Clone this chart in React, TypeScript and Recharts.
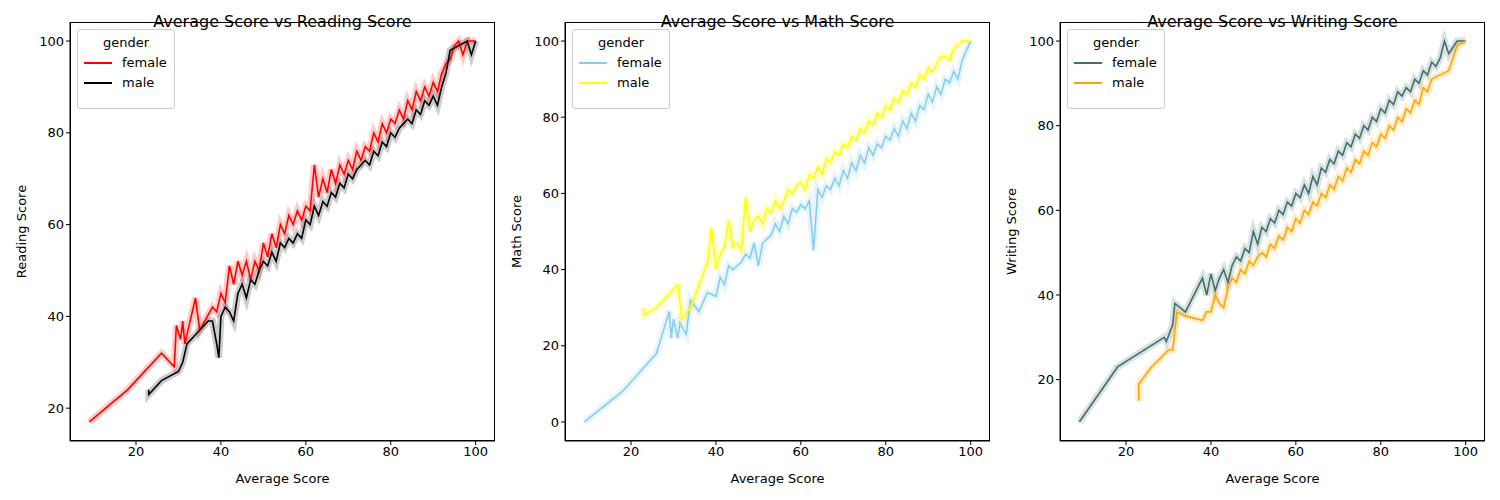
import React from "react";
import { LineChart, Line, XAxis, YAxis } from "recharts";

type Pt = { x: number; y: number };
const toPts = (rows: number[][]): Pt[] => rows.map(([x, y]) => ({ x, y }));

const readingFemale = [
  [9, 17], [18, 24], [26, 32], [29, 29], [29.5, 38], [30.5, 35], [31, 39], [31.5, 34], [34, 44], [35, 37],
  [38, 42], [39, 41], [40, 45], [41, 43], [42, 51], [43, 47], [44, 52], [45, 49], [46, 52], [47, 48],
  [48, 52], [49, 50], [50, 56], [51, 53], [52, 58], [53, 55], [54, 60], [55, 58], [56, 62], [57, 60],
  [58, 63], [59, 61], [60, 64], [61, 63], [62, 73], [63, 66], [64, 70], [65, 67], [66, 72], [67, 69],
  [68, 73], [69, 71], [70, 74], [71, 72], [72, 76], [73, 74], [74, 77], [75, 76], [76, 80], [77, 78],
  [78, 82], [79, 80], [80, 83], [81, 82], [82, 85], [83, 83], [84, 87], [85, 85], [86, 89], [87, 87],
  [88, 90], [89, 88], [90, 91], [91, 89], [92, 93], [93, 95], [94, 96], [95, 99], [96, 100], [97, 97],
  [98, 100], [100, 100],
];
const readingMale = [
  [23, 24], [23, 23], [26, 26], [30, 28], [31, 30], [32, 34], [34, 36], [37, 39], [38, 39], [39, 34],
  [39.5, 31], [40, 40], [41, 42], [42, 41], [43, 39], [44, 45], [45, 47], [46, 44], [47, 48], [48, 47],
  [49, 50], [50, 52], [51, 51], [52, 54], [53, 52], [54, 56], [55, 55], [56, 57], [57, 56], [58, 58],
  [59, 57], [60, 61], [61, 60], [62, 64], [63, 62], [64, 65], [65, 64], [66, 67], [67, 66], [68, 69],
  [69, 68], [70, 71], [71, 70], [72, 72], [73, 73], [74, 74], [75, 73], [76, 76], [77, 75], [78, 78],
  [79, 77], [80, 80], [81, 79], [82, 81], [83, 82], [84, 83], [85, 82], [86, 85], [87, 84], [88, 87],
  [89, 86], [90, 88], [91, 86], [92, 90], [93, 93], [94, 98], [96, 99], [98, 100], [99, 97], [100, 100],
];
const mathFemale = [
  [9, 0], [18, 8], [26, 18], [29, 29], [29.5, 22], [30, 27], [31, 22], [31.5, 26], [33, 23], [34, 32],
  [36, 29], [38, 34], [40, 33], [41, 38], [42, 36], [43, 41], [44, 40], [46, 42], [47, 44], [48, 43],
  [49, 47], [50, 41], [51, 47], [52, 48], [53, 49], [54, 52], [55, 50], [56, 54], [57, 52], [58, 56],
  [59, 55], [60, 57], [61, 56], [62, 58], [63, 45], [64, 61], [65, 59], [66, 62], [67, 61], [68, 64],
  [69, 62], [70, 66], [71, 64], [72, 68], [73, 66], [74, 70], [75, 68], [76, 72], [77, 70], [78, 73],
  [79, 72], [80, 75], [81, 74], [82, 77], [83, 75], [84, 79], [85, 77], [86, 81], [87, 79], [88, 83],
  [89, 82], [90, 86], [91, 84], [92, 88], [93, 86], [94, 90], [95, 89], [96, 92], [97, 90], [98, 95],
  [100, 100],
];
const mathMale = [
  [23, 30], [23, 28], [26, 30], [31, 36], [32, 27], [34, 30], [38, 42], [39, 51], [40, 40], [41, 44],
  [42, 46], [43, 53], [44, 46], [45, 47], [46, 45], [47, 59], [48, 50], [49, 53], [50, 54], [51, 52],
  [52, 56], [53, 55], [54, 58], [55, 56], [56, 58], [57, 61], [58, 60], [59, 62], [60, 63], [61, 61],
  [62, 65], [63, 64], [64, 67], [65, 65], [66, 69], [67, 68], [68, 71], [69, 70], [70, 73], [71, 72],
  [72, 75], [73, 74], [74, 77], [75, 76], [76, 79], [77, 78], [78, 81], [79, 80], [80, 83], [81, 82],
  [82, 85], [83, 84], [84, 87], [85, 86], [86, 89], [87, 88], [88, 91], [89, 90], [90, 93], [91, 92],
  [92, 94], [93, 96], [94, 96], [95, 95], [96, 98], [98, 100], [100, 100],
];
const writingFemale = [
  [9, 10], [18, 23], [29, 30], [29.5, 29], [31, 33], [31.5, 38], [34, 36], [38, 44], [39, 40], [40, 45],
  [41, 41], [42, 44], [43, 46], [44, 43], [45, 47], [46, 49], [47, 48], [48, 51], [49, 50], [50, 55],
  [51, 52], [52, 56], [53, 55], [54, 58], [55, 57], [56, 60], [57, 59], [58, 62], [59, 61], [60, 64],
  [61, 63], [62, 66], [63, 64], [64, 68], [65, 66], [66, 70], [67, 69], [68, 72], [69, 71], [70, 74],
  [71, 73], [72, 76], [73, 75], [74, 78], [75, 77], [76, 80], [77, 79], [78, 82], [79, 81], [80, 84],
  [81, 83], [82, 86], [83, 85], [84, 88], [85, 87], [86, 89], [87, 88], [88, 91], [89, 90], [90, 93],
  [91, 92], [92, 95], [93, 94], [94, 96], [95, 100], [96, 97], [98, 100], [100, 100],
];
const writingMale = [
  [23, 15], [23, 19], [26, 23], [30, 27], [31, 27], [32, 36], [34, 35], [38, 34], [39, 36], [40, 36],
  [41, 40], [42, 38], [43, 37], [44, 42], [45, 44], [46, 43], [47, 46], [48, 45], [49, 48], [50, 47],
  [51, 49], [52, 50], [53, 49], [54, 52], [55, 51], [56, 54], [57, 53], [58, 56], [59, 55], [60, 58],
  [61, 57], [62, 60], [63, 59], [64, 62], [65, 61], [66, 64], [67, 63], [68, 66], [69, 65], [70, 68],
  [71, 67], [72, 70], [73, 69], [74, 72], [75, 71], [76, 74], [77, 73], [78, 76], [79, 75], [80, 78],
  [81, 77], [82, 80], [83, 79], [84, 82], [85, 81], [86, 84], [87, 83], [88, 86], [89, 85], [90, 89],
  [91, 88], [92, 91], [94, 92], [96, 93], [98, 99], [100, 100],
];

const xTicks = [20, 40, 60, 80, 100];
const font = "DejaVu Sans, sans-serif";

const M = { top: 22, right: 5, bottom: 29, left: 30 };
const W = 500;
const H = 500;

interface PanelProps {
  left: number;
  title: string;
  yLabel: string;
  yDomain: [number, number];
  yTicks: number[];
  female: number[][];
  male: number[][];
  fColor: string;
  mColor: string;
}

const Panel: React.FC<PanelProps> = (p) => {
  const f = toPts(p.female);
  const m = toPts(p.male);
  const tick = { fill: "#000", fontSize: 13, fontFamily: font };
  return (
    <div style={{ position: "absolute", left: p.left, top: 0, width: W, height: H }}>
      <LineChart width={W} height={H} margin={M}>
        <XAxis
          dataKey="x"
          type="number"
          domain={[4.45, 104.55]}
          ticks={xTicks}
          tick={tick}
          stroke="#000"
          tickSize={4}
          height={30}
          allowDuplicatedCategory={false}
          label={{ value: "Average Score", position: "insideBottom", offset: -12, fill: "#000", fontSize: 13, fontFamily: font }}
        />
        <YAxis
          dataKey="y"
          type="number"
          domain={p.yDomain}
          ticks={p.yTicks}
          tick={tick}
          stroke="#000"
          tickSize={4}
          width={40}
          label={{ value: p.yLabel, angle: -90, position: "insideLeft", offset: -9, style: { textAnchor: "middle" }, fill: "#000", fontSize: 13, fontFamily: font }}
        />
        <Line data={f} dataKey="y" stroke={p.fColor} strokeOpacity={0.2} strokeWidth={7} dot={false} isAnimationActive={false} legendType="none" />
        <Line data={m} dataKey="y" stroke={p.mColor} strokeOpacity={0.2} strokeWidth={7} dot={false} isAnimationActive={false} legendType="none" />
        <Line data={f} dataKey="y" stroke={p.fColor} strokeWidth={1.6} dot={false} isAnimationActive={false} />
        <Line data={m} dataKey="y" stroke={p.mColor} strokeWidth={1.6} dot={false} isAnimationActive={false} />
      </LineChart>
      <div style={{ position: "absolute", left: 70, top: 22, width: 425, height: 419, border: "1px solid #000", boxSizing: "border-box", pointerEvents: "none" }} />
      <div style={{ position: "absolute", left: 70, width: 425, top: 12, textAlign: "center", fontFamily: font, fontSize: 16 }}>{p.title}</div>
      <div style={{ position: "absolute", left: 77, top: 29, width: 98, height: 80, border: "1px solid #ccc", borderRadius: 3, background: "rgba(255,255,255,0.8)", fontFamily: font, fontSize: 13, boxSizing: "border-box" }}>
        <div style={{ textAlign: "center", marginTop: 5 }}>gender</div>
        {[["female", p.fColor], ["male", p.mColor]].map(([n, c]) => (
          <div key={n} style={{ display: "flex", alignItems: "center", marginTop: 5, marginLeft: 6 }}>
            <div style={{ width: 28, height: 2, background: c, marginRight: 10 }} />
            {n}
          </div>
        ))}
      </div>
    </div>
  );
};

export default function App() {
  return (
    <div style={{ position: "relative", width: 1500, height: 500, margin: -8, background: "#fff" }}>
      <Panel left={0} title="Average Score vs Reading Score" yLabel="Reading Score" yDomain={[12.85, 104.15]} yTicks={[20, 40, 60, 80, 100]} female={readingFemale} male={readingMale} fColor="#ff0000" mColor="#000000" />
      <Panel left={495} title="Average Score vs Math Score" yLabel="Math Score" yDomain={[-5, 105]} yTicks={[0, 20, 40, 60, 80, 100]} female={mathFemale} male={mathMale} fColor="#87ceeb" mColor="#ffff00" />
      <Panel left={990} title="Average Score vs Writing Score" yLabel="Writing Score" yDomain={[5.5, 104.5]} yTicks={[20, 40, 60, 80, 100]} female={writingFemale} male={writingMale} fColor="#426e6e" mColor="#ffa500" />
    </div>
  );
}
